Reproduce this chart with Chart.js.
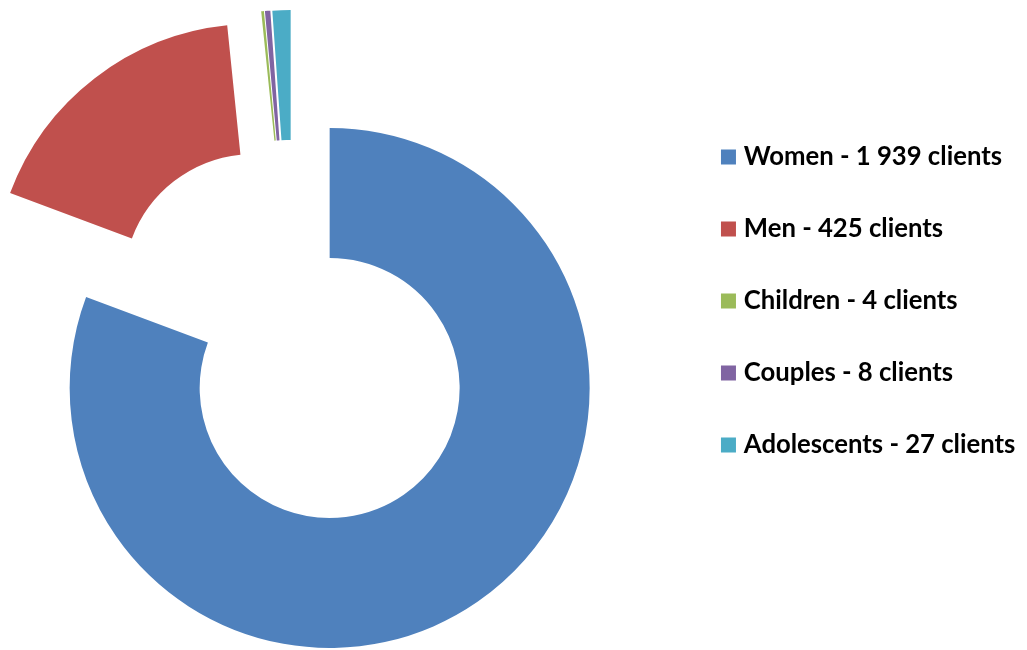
<!DOCTYPE html>
<html>
<head>
<meta charset="utf-8">
<script src="https://cdn.jsdelivr.net/npm/chart.js@4/dist/chart.umd.min.js"></script>
<style>
  html, body { margin: 0; padding: 0; background: #ffffff; }
  #wrap { position: relative; width: 1027px; height: 650px; }
</style>
</head>
<body>
<div id="wrap"><canvas id="chart" width="1027" height="650"></canvas></div>
<script>
// ---- data ----
const categories = ['Women', 'Men', 'Children', 'Couples', 'Adolescents'];
const clientCounts = [1939, 425, 4, 8, 27];
const legendLabels = ['Women - 1 939 clients', 'Men - 425 clients', 'Children - 4 clients', 'Couples - 8 clients', 'Adolescents - 27 clients'];

// ---- style ----
const sliceColors = ['#4F81BD', '#C0504D', '#9BBB59', '#8064A2', '#4BACC6'];
// exploded-slice displacement in px (Women stays in place)
const explodeShift = [[0, 0], [-76, -104], [-42, -118], [-41, -118], [-39, -118]];
const legendFont = { family: 'Lato', weight: 'bold', size: 25.7 };

const explodePlugin = {
  id: 'explodeSlices',
  afterDatasetUpdate(chart, args) {
    args.meta.data.forEach((arc, i) => {
      const s = explodeShift[i] || [0, 0];
      arc.x += s[0];
      arc.y += s[1];
    });
  }
};

new Chart(document.getElementById('chart'), {
  type: 'doughnut',
  data: {
    labels: categories,
    datasets: [{
      data: clientCounts,
      backgroundColor: sliceColors,
      borderWidth: 0,
      clip: false
    }]
  },
  options: {
    responsive: false,
    devicePixelRatio: 1,
    animation: false,
    cutout: '50%',
    radius: 260,
    layout: { padding: { left: 0, top: 0, bottom: 48, right: 1.6 } },
    plugins: {
      tooltip: { enabled: false },
      // empty spacer boxes that shape the chart area
      title: { display: true, text: '', position: 'top', padding: 0, font: { size: 174, lineHeight: 1 } },
      subtitle: { display: true, text: '', position: 'right', weight: 500, padding: 0, font: { size: 20.35, lineHeight: 1 } },
      legend: {
        position: 'right',
        align: 'center',
        maxWidth: 400,
        labels: {
          boxWidth: 5,
          boxHeight: 5,
          padding: 46.3,
          color: '#000000',
          font: legendFont,
          generateLabels(c) {
            const items = Chart.overrides.doughnut.plugins.legend.labels.generateLabels(c);
            items.forEach(it => {
              it.text = legendLabels[it.index];
              it.strokeStyle = it.fillStyle;
              it.lineWidth = 10;
              it.lineJoin = 'miter';
            });
            return items;
          }
        }
      }
    }
  },
  plugins: [explodePlugin]
});
</script>
</body>
</html>
